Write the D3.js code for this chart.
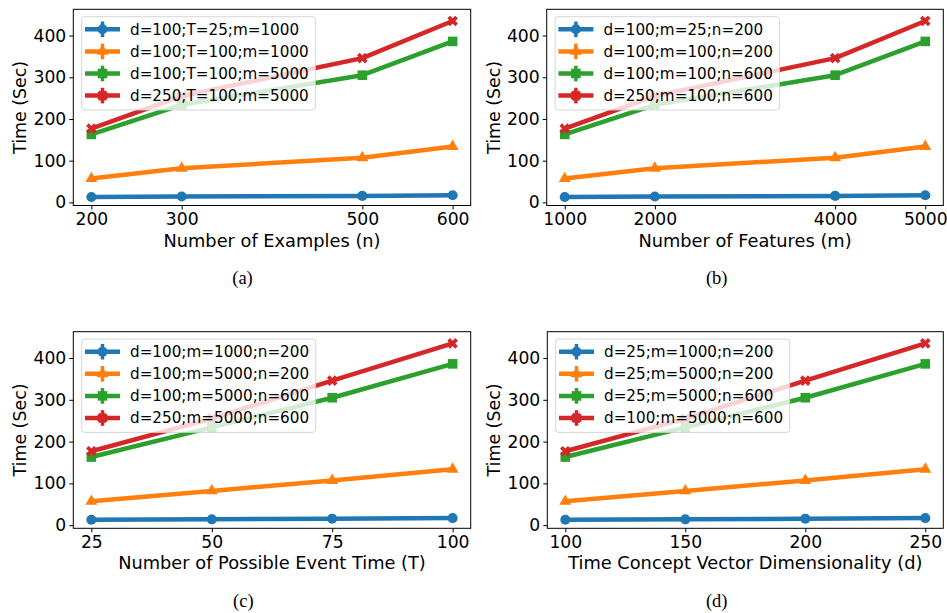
<!DOCTYPE html>
<html>
<head>
<meta charset="utf-8">
<script src="https://cdn.jsdelivr.net/npm/d3@7"></script>
<style>
  body { margin: 0; background: #fff; }
  svg text { font-family: "DejaVu Sans", sans-serif; fill: #000; }
  .caption { font-family: "Liberation Serif", "Times New Roman", serif; }
</style>
</head>
<body>
<div id="chart"></div>
<script>
'use strict'

// values (same runs in every panel)
var blueTimes = [13, 14, 15.5, 17];
var orangeTimes = [57, 82, 107, 134];
var greenTimes = [163, 234, 305, 386];
var redTimes = [177, 255, 346, 435];

var examplesX = [200, 300, 500, 600];
var featuresX = [1000, 2000, 4000, 5000];
var eventTimeX = [25, 50, 75, 100];
var dimX = [100, 150, 200, 250];

var yTicks = [0, 100, 200, 300, 400];

var labelsA = ['d=100;T=25;m=1000', 'd=100;T=100;m=1000', 'd=100;T=100;m=5000', 'd=250;T=100;m=5000'];
var labelsB = ['d=100;m=25;n=200', 'd=100;m=100;n=200', 'd=100;m=100;n=600', 'd=250;m=100;n=600'];
var labelsC = ['d=100;m=1000;n=200', 'd=100;m=5000;n=200', 'd=100;m=5000;n=600', 'd=250;m=5000;n=600'];
var labelsD = ['d=25;m=1000;n=200', 'd=25;m=5000;n=200', 'd=25;m=5000;n=600', 'd=100;m=5000;n=600'];

const colors = ['#1f77b4', '#ff7f0e', '#2ca02c', '#d62728'];
const shapes = ['circle', 'triangle', 'square', 'x'];

const W = 947, H = 613;
var svg = d3.select('#chart').append('svg')
  .attr('width', W)
  .attr('height', H);

function markerPath(shape) {
  if (shape == 'circle') return d3.symbol().type(d3.symbolCircle).size(80)();
  if (shape == 'triangle') return d3.symbol().type(d3.symbolTriangle).size(62)();
  if (shape == 'square') return d3.symbol().type(d3.symbolSquare).size(92)();
  return d3.symbol().type(d3.symbolCross).size(70)();
}

function drawPanel(p) {
  var g = svg.append('g');

  var xs = p.x;
  var span = d3.max(xs) - d3.min(xs);
  var xScale = d3.scaleLinear()
    .domain([d3.min(xs) - 0.05 * span, d3.max(xs) + 0.05 * span])
    .range([p.left, p.right]);
  var yScale = d3.scaleLinear()
    .domain([-7.5, 463])
    .range([p.bottom, p.top]);

  var series = [blueTimes, orangeTimes, greenTimes, redTimes];

  // lines
  var line = d3.line()
    .x(function(d, i) { return xScale(xs[i]); })
    .y(function(d) { return yScale(d); });

  series.forEach(function(vals, si) {
    g.append('path')
      .attr('d', line(vals))
      .attr('fill', 'none')
      .attr('stroke', colors[si])
      .attr('stroke-width', 4.5)
      .attr('stroke-linejoin', 'round');
    g.selectAll('.m' + si)
      .data(vals)
      .enter().append('path')
      .attr('d', markerPath(shapes[si]))
      .attr('fill', colors[si])
      .attr('transform', function(d, i) {
        var r = shapes[si] == 'x' ? ' rotate(45)' : '';
        return 'translate(' + xScale(xs[i]) + ',' + yScale(d) + ')' + r;
      });
  });

  // axes
  var xAxis = d3.axisBottom(xScale).tickValues(xs).tickSize(4).tickPadding(3).tickFormat(d3.format('d'));
  var yAxis = d3.axisLeft(yScale).tickValues(yTicks).tickSize(4).tickPadding(3);

  var xg = g.append('g').attr('transform', 'translate(0,' + p.bottom + ')').call(xAxis);
  var yg = g.append('g').attr('transform', 'translate(' + p.left + ',0)').call(yAxis);
  [xg, yg].forEach(function(a) {
    a.select('.domain').remove();
    a.selectAll('line').attr('stroke', '#000').attr('stroke-width', 1);
    a.selectAll('text').style('font-size', '17.2px').attr('fill', '#000');
  });

  // frame
  g.append('rect')
    .attr('x', p.left).attr('y', p.top)
    .attr('width', p.right - p.left).attr('height', p.bottom - p.top)
    .attr('fill', 'none').attr('stroke', '#000').attr('stroke-width', 1);

  // axis labels
  g.append('text')
    .attr('x', (p.left + p.right) / 2)
    .attr('y', p.bottom + 41)
    .attr('text-anchor', 'middle')
    .style('font-size', '17.8px')
    .text(p.xLabel);

  g.append('text')
    .attr('transform', 'translate(' + (p.left - 53.3) + ',' + ((p.top + p.bottom) / 2) + ') rotate(-90)')
    .attr('text-anchor', 'middle')
    .attr('dy', '0.36em')
    .style('font-size', '17.4px')
    .text('Time (Sec)');

  // legend
  var lx = p.left + 8.4, ly = p.top + 7.4;
  var leg = g.append('g').attr('transform', 'translate(' + lx + ',' + ly + ')');
  var box = leg.append('rect')
    .attr('height', 93.3)
    .attr('rx', 3)
    .attr('fill', '#fff')
    .attr('fill-opacity', 0.8)
    .attr('stroke', '#cccccc')
    .attr('stroke-opacity', 0.8)
    .attr('stroke-width', 1);
  var maxW = 0;
  p.labels.forEach(function(lab, i) {
    var cy = 12.6 + i * 22.1;
    leg.append('line')
      .attr('x1', 3.3).attr('x2', 38.3).attr('y1', cy).attr('y2', cy)
      .attr('stroke', colors[i]).attr('stroke-width', 4.5);
    leg.append('line')
      .attr('x1', 20.8).attr('x2', 20.8).attr('y1', cy - 7.8).attr('y2', cy + 7.8)
      .attr('stroke', colors[i]).attr('stroke-width', 3.5);
    leg.append('path')
      .attr('d', markerPath(shapes[i]))
      .attr('fill', colors[i])
      .attr('transform', 'translate(20.8,' + cy + ')' + (shapes[i] == 'x' ? ' rotate(45)' : ''));
    var t = leg.append('text')
      .attr('x', 48.3).attr('y', cy)
      .attr('dy', '0.36em')
      .style('font-size', '15.2px')
      .text(lab);
    maxW = Math.max(maxW, t.node().getComputedTextLength());
  });
  box.attr('width', 48.3 + maxW + 6.6);

  // caption
  svg.append('text')
    .attr('class', 'caption')
    .attr('x', p.capX).attr('y', p.capY)
    .attr('text-anchor', 'middle')
    .style('font-size', '18.5px')
    .text(p.caption);
}

drawPanel({x: examplesX, labels: labelsA, xLabel: 'Number of Examples (n)', caption: '(a)',
  left: 73.3, right: 470.7, top: 9.3, bottom: 205.5, capX: 242.5, capY: 284});
drawPanel({x: featuresX, labels: labelsB, xLabel: 'Number of Features (m)', caption: '(b)',
  left: 546.7, right: 943.3, top: 9.3, bottom: 205.5, capX: 716.7, capY: 284});
drawPanel({x: eventTimeX, labels: labelsC, xLabel: 'Number of Possible Event Time (T)', caption: '(c)',
  left: 73.3, right: 470.7, top: 331.7, bottom: 528.3, capX: 243.3, capY: 606.5});
drawPanel({x: dimX, labels: labelsD, xLabel: 'Time Concept Vector Dimensionality (d)', caption: '(d)',
  left: 547.3, right: 943.3, top: 331.7, bottom: 528.3, capX: 716.7, capY: 606.5});
</script>
</body>
</html>
